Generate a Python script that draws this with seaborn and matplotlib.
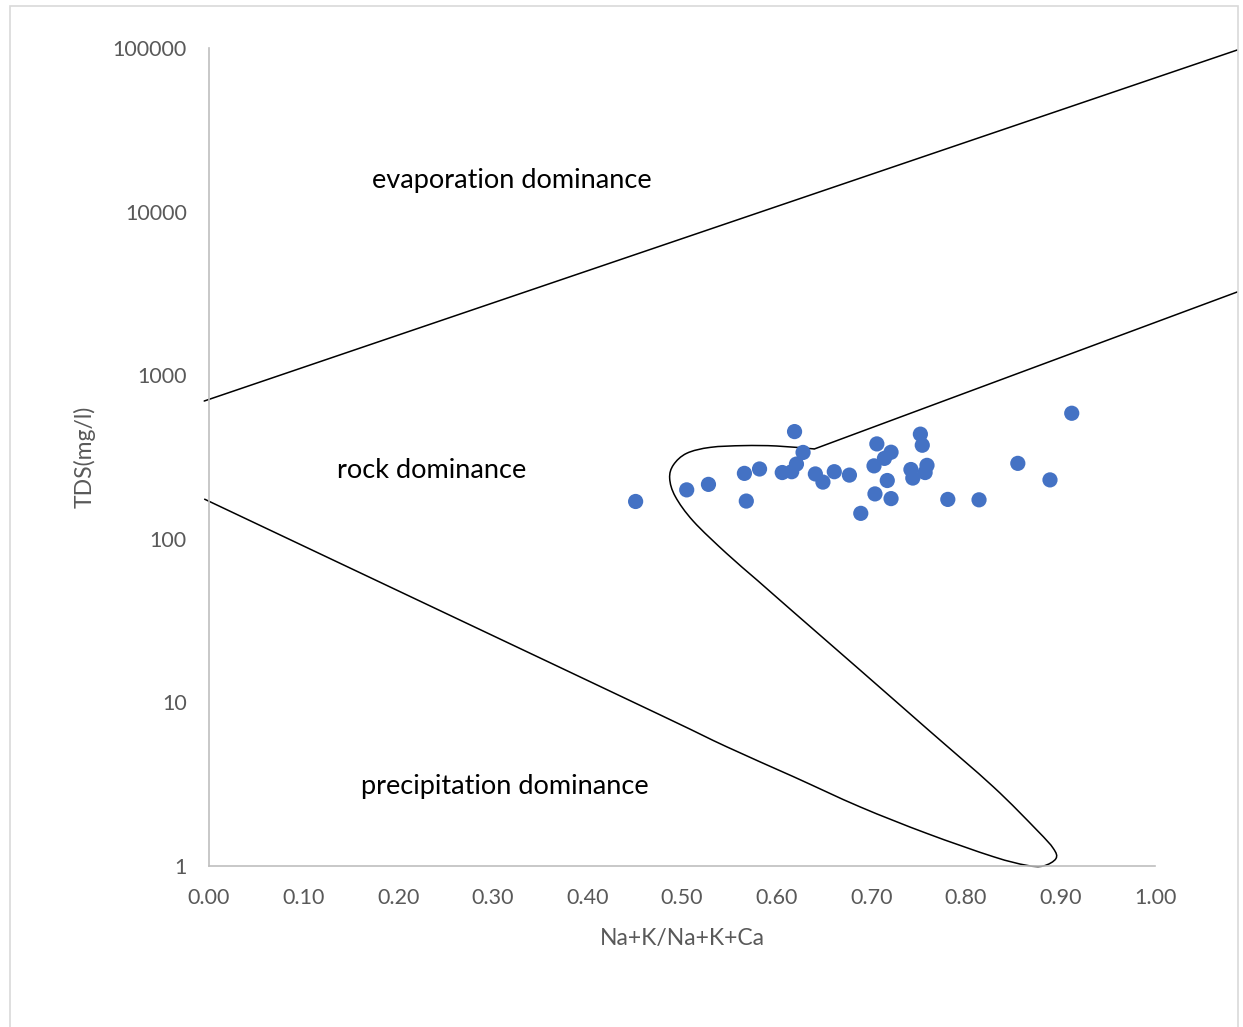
import matplotlib
matplotlib.use("Agg")
import matplotlib.pyplot as plt
import matplotlib.patches as mpatches
from matplotlib.path import Path
import numpy as np
import seaborn as sns
import pandas as pd

# Sample ratios Na+K/(Na+K+Ca) and total dissolved solids (mg/l)
ratio = [0.451, 0.505, 0.528, 0.566, 0.582, 0.568, 0.619, 0.628, 0.621, 0.606,
         0.616, 0.641, 0.649, 0.661, 0.677, 0.706, 0.703, 0.714, 0.721, 0.717,
         0.704, 0.721, 0.689, 0.752, 0.754, 0.742, 0.744, 0.759, 0.757, 0.781,
         0.814, 0.855, 0.889, 0.912]
tds = [169, 199, 215, 251, 267, 170, 452, 337, 286, 254,
       257, 249, 222, 257, 245, 380, 279, 310, 338, 227,
       188, 176, 143, 436, 373, 265, 235, 281, 254, 174,
       173, 289, 229, 585]

# Gibbs boundaries: upper (evaporation / rock) line
upper_x = [-0.005, 1.087]
upper_y = [695, 97200]

# Lower-right straight boundary between rock and evaporation fields
right_x = [0.640, 1.087]
right_y = [354, 3226]

# Curved boundary: left arm, tip near the base, return arm and rock-field bend
curve_x = [-0.005, 0.234, 0.477, 0.547, 0.618, 0.688, 0.759, 0.829, 0.864,
           0.882, 0.8953, 0.8925, 0.875, 0.829, 0.759, 0.688, 0.618, 0.580,
           0.547, 0.512, 0.493, 0.487, 0.491, 0.505, 0.530, 0.565, 0.600, 0.640]
curve_y = [175, 38.8, 8.38, 5.36, 3.51, 2.30, 1.58, 1.14, 1.01,
           1.0, 1.11, 1.28, 1.66, 3.05, 6.9, 15.8, 35.6, 55.5,
           81.5, 128, 181, 234, 283, 333, 362, 371, 369, 354]

zone_labels = ["evaporation dominance", "rock dominance", "precipitation dominance"]
zone_x = [0.320, 0.235, 0.313]
zone_y = [15400, 263, 3.04]

y_ticks = [1, 10, 100, 1000, 10000, 100000]
x_ticks = [0.0, 0.1, 0.2, 0.3, 0.4, 0.5, 0.6, 0.7, 0.8, 0.9, 1.0]


def smooth_path(xs, ys):
    """Smoothed line through the points (Catmull-Rom as cubic Beziers, log-y space)."""
    p = np.column_stack([xs, np.log10(ys)])
    n = len(p)
    verts = [p[0]]
    codes = [Path.MOVETO]
    for i in range(n - 1):
        p0 = p[i - 1] if i > 0 else p[i]
        p1, p2 = p[i], p[i + 1]
        p3 = p[i + 2] if i + 2 < n else p[i + 1]
        c1 = p1 + (p2 - p0) / 6.0
        c2 = p2 - (p3 - p1) / 6.0
        verts += [c1, c2, p2]
        codes += [Path.CURVE4] * 3
    v = np.array(verts)
    v[:, 1] = 10 ** v[:, 1]
    return Path(v, codes)


sns.set_theme(style="white")
plt.rcParams["font.family"] = ["Lato", "DejaVu Sans"]

fig = plt.figure(figsize=(12.43, 10.27), dpi=100)
ax = fig.add_axes([0.1681, 0.1568, 0.9292 - 0.1681, 0.9533 - 0.1568])

# chart-area frame
fig.patches.append(mpatches.Rectangle((10 / 1243, -0.01), 1228 / 1243, 1 - 6 / 1027 + 0.01,
                                      transform=fig.transFigure, fill=False,
                                      edgecolor="#d9d9d9", linewidth=1.2))

ax.set_yscale("log")
ax.set_xlim(0, 1.0)
ax.set_ylim(1, 100000)

sns.lineplot(x=upper_x, y=upper_y, sort=False, estimator=None, color="black",
             linewidth=1.1, ax=ax, clip_on=False)
sns.lineplot(x=right_x, y=right_y, sort=False, estimator=None, color="black",
             linewidth=1.1, ax=ax, clip_on=False)
ax.add_patch(mpatches.PathPatch(smooth_path(curve_x, curve_y), fill=False,
                                edgecolor="black", linewidth=1.1, clip_on=False))

df = pd.DataFrame({"ratio": ratio, "tds": tds})
sns.scatterplot(data=df, x="ratio", y="tds", color="#4472C4", s=120,
                edgecolor="none", ax=ax, zorder=3)

for lab, lx, ly in zip(zone_labels, zone_x, zone_y):
    ax.text(lx, ly, lab, ha="center", va="center", fontsize=19.5, color="black")

ax.set_xticks(x_ticks)
ax.set_xticklabels([f"{v:.2f}" for v in x_ticks])
ax.set_yticks(y_ticks)
ax.set_yticklabels([str(v) for v in y_ticks])
ax.minorticks_off()
ax.tick_params(axis="both", length=0, labelsize=15.5, colors="#595959")
ax.tick_params(axis="x", pad=16)
ax.tick_params(axis="y", pad=16)

ax.set_xlabel("Na+K/Na+K+Ca", fontsize=16.5, color="#595959", labelpad=14)
ax.set_ylabel("TDS(mg/l)", fontsize=16.5, color="#595959", labelpad=12)

for side in ["top", "right"]:
    ax.spines[side].set_visible(False)
for side in ["left", "bottom"]:
    ax.spines[side].set_color("#bfbfbf")
    ax.spines[side].set_linewidth(1.2)

fig.savefig("out.png", dpi=100, facecolor="white")
